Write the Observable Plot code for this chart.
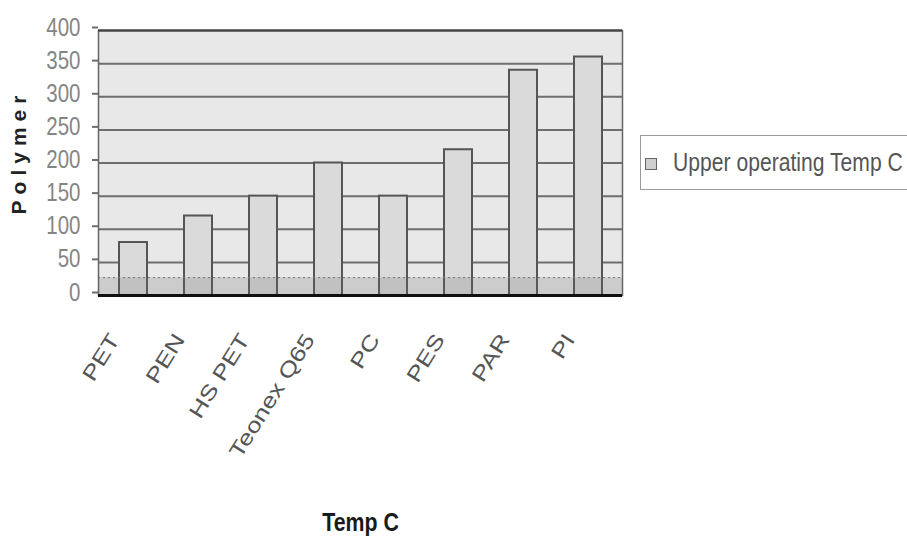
<!DOCTYPE html>
<html>
<head>
<meta charset="utf-8">
<script src="https://cdn.jsdelivr.net/npm/d3@7"></script>
<script src="https://cdn.jsdelivr.net/npm/@observablehq/plot@0.6"></script>
<style>
  html, body { margin: 0; padding: 0; background: #fff; }
  #chart { position: relative; width: 907px; height: 546px; overflow: hidden; }
  #chart svg { display: block; }
  .legend {
    position: absolute; left: 640px; top: 135px; width: 290px; height: 55px;
    box-sizing: border-box; border: 1px solid #9a9a9a; background: #fff;
    display: flex; align-items: center; white-space: nowrap;
    font-family: "Liberation Sans", Arial, sans-serif;
    font-size: 25px; color: #555;
  }
  .legend .swatch {
    flex: none; width: 10px; height: 10px; margin: 2px 16px 0 4px;
    background: #cfcfcf; border: 1.5px solid #666;
  }
  .legend .name { display: inline-block; transform: scaleX(0.845); transform-origin: left center; }
</style>
</head>
<body>
<div id="chart"></div>
<script>
// Upper operating temperature of common substrate polymers (°C)
const polymers = ["PET", "PEN", "HS PET", "Teonex Q65", "PC", "PES", "PAR", "PI"];
const upperTemp = [80, 120, 150, 200, 150, 220, 340, 360];
const yTicks = [0, 50, 100, 150, 200, 250, 300, 350, 400];
const seriesName = "Upper operating Temp C";
const yLabel = "Polymer";
const xLabel = "Temp C";
// depth of the shaded chart floor, in °C units
const floorDepth = 27;

const sans = "'Liberation Sans', Arial, sans-serif";
const rows = polymers.map((p, i) => ({polymer: p, temp: upperTemp[i]}));

const chart = Plot.plot({
  width: 907,
  height: 546,
  marginLeft: 98,
  marginRight: 285,
  marginTop: 30,
  marginBottom: 251,
  style: {background: "transparent", overflow: "visible"},
  x: {domain: polymers, paddingInner: 0.57, paddingOuter: 0.27, axis: null},
  y: {domain: [0, 400], axis: null},
  marks: [
    Plot.frame({fill: "#e8e8e8", stroke: null}),
    Plot.gridY(yTicks, {stroke: "#6e6e6e", strokeOpacity: 1, strokeWidth: 2}),
    Plot.axisY(yTicks, {
      tickSize: 6, tickPadding: 12, stroke: "#6e6e6e", strokeWidth: 2,
      fontSize: 25, fontFamily: sans, fill: "#858585", dy: -3, label: null
    }),
    Plot.barY(rows, {x: "polymer", y: "temp", fill: "#dadada", stroke: "#555", strokeWidth: 2}),
    Plot.rect([floorDepth], {y1: 0, y2: d => d, fill: "#6a6a6a", fillOpacity: 0.22}),
    Plot.ruleY([floorDepth], {stroke: "#777", strokeWidth: 1, strokeDasharray: "2,3"}),
    Plot.frame({stroke: "#666", strokeWidth: 1.5}),
    Plot.ruleY([400], {stroke: "#444", strokeWidth: 2}),
    Plot.ruleY([0], {stroke: "#111", strokeWidth: 3}),
    Plot.text(polymers, {
      x: d => d, frameAnchor: "bottom", rotate: -58, textAnchor: "end",
      dx: -13, dy: 44, fontSize: 21, fill: "#555", fontFamily: sans
    }),
    Plot.text([yLabel], {
      frameAnchor: "left", textAnchor: "middle", rotate: -90, dx: -79, dy: -11,
      fontSize: 21, fontWeight: "bold", fill: "#222", fontFamily: sans
    }),
    Plot.text([xLabel], {
      frameAnchor: "bottom", dy: 235, fontSize: 26, fontWeight: "bold",
      fill: "#1a1a1a", fontFamily: sans
    })
  ]
});

const host = document.getElementById("chart");
host.appendChild(chart);

// wide glyphs for the category labels, spaced y title, narrow face for numbers and the x title
const tickSet = new Set(yTicks.map(String));
const fitText = (el, k) => {
  el.setAttribute("textLength", (el.getComputedTextLength() * k).toFixed(1));
  el.setAttribute("lengthAdjust", "spacingAndGlyphs");
};
d3.select(chart).selectAll("text").each(function() {
  const t = this.textContent;
  if (polymers.includes(t)) fitText(this, 1.25);
  if (t === yLabel) this.setAttribute("letter-spacing", "6");
  if (tickSet.has(t) || t === xLabel) fitText(this, 0.82);
});

const legend = document.createElement("div");
legend.className = "legend";
legend.innerHTML = `<span class="swatch"></span><span class="name"></span>`;
legend.lastChild.textContent = seriesName;
host.appendChild(legend);
</script>
</body>
</html>
